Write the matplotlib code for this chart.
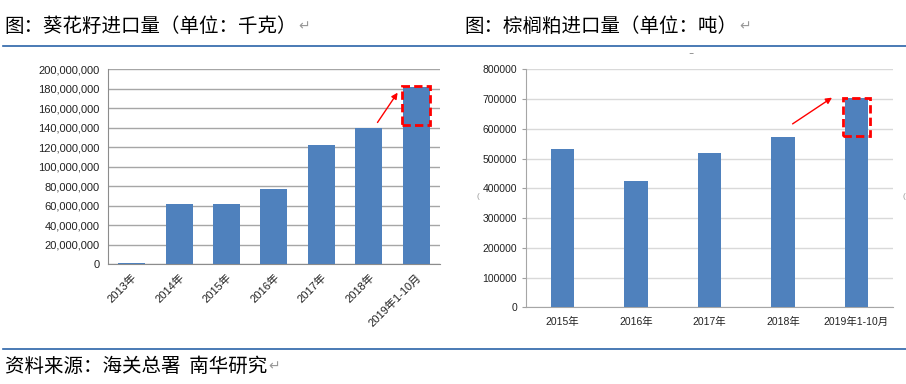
import matplotlib.pyplot as plt
from matplotlib.patches import Rectangle
from matplotlib.lines import Line2D
from matplotlib.text import Annotation
from matplotlib.ticker import FuncFormatter

plt.rcParams['font.family'] = ['Liberation Sans', 'Noto Sans CJK SC', 'DejaVu Sans']

# sunflower seed imports (kg)
sun_years = ['2013年', '2014年', '2015年', '2016年', '2017年', '2018年', '2019年1-10月']
sun_vals = [1.4e6, 61.9e6, 61.5e6, 76.9e6, 121.7e6, 139.3e6, 181.2e6]

# palm stearin imports (t)
palm_years = ['2015年', '2016年', '2017年', '2018年', '2019年1-10月']
palm_vals = [533000, 424600, 517600, 571400, 704000]

bar_color = '#4F81BD'
cjk = ['Noto Sans CJK SC', 'DejaVu Sans']

fig = plt.figure(figsize=(9.06, 3.84), dpi=100)


def para(x, y, s):
    # text line ending with a grey paragraph mark, like the word document
    t = fig.text(x, y, s, fontsize=14, family=cjk, va='center', ha='left', weight='medium')
    mark = Annotation('↵', xy=(1, 0.5), xycoords=t, xytext=(1, 0), textcoords='offset points',
                      fontsize=10, family=['DejaVu Sans'], color='#999999', va='center', ha='left',
                      annotation_clip=False)
    fig.add_artist(mark)
    return t


# titles, rules and source line
para(0.005, 0.932, '图：葵花籽进口量（单位：千克）')
para(0.513, 0.932, '图：棕榈粕进口量（单位：吨）')
fig.add_artist(Line2D([0.003, 1.0], [0.881, 0.881], color='#2B63A8', lw=1.2))
fig.add_artist(Line2D([0.003, 1.0], [0.091, 0.091], color='#2B63A8', lw=1.2))
para(0.005, 0.045, '资料来源：海关总署  南华研究')

# small leftover marks of the pasted picture frame
fig.text(0.763, 0.845, '‾', fontsize=7, color='#777777', ha='center', va='center')
fig.text(0.528, 0.487, '(', fontsize=6, color='#999999', ha='center', va='center')
fig.text(0.998, 0.487, '(', fontsize=6, color='#999999', ha='center', va='center')

# left chart
ax1 = fig.add_axes([0.1192, 0.3125, 0.3664, 0.5078])
x1 = range(len(sun_years))
ax1.bar(x1, sun_vals, width=0.57, color=bar_color, zorder=3)
ax1.set_xlim(-0.5, len(sun_years) - 0.5)
ax1.set_ylim(0, 200e6)
ax1.set_yticks([i * 20e6 for i in range(11)])
ax1.yaxis.set_major_formatter(FuncFormatter(lambda v, p: f'{int(v):,}'))
ax1.grid(axis='y', color='#A6A6A6', lw=1, zorder=0)
ax1.set_xticks(list(x1))
ax1.set_xticklabels(sun_years, rotation=45, ha='right', rotation_mode='anchor', fontsize=8)
ax1.tick_params(axis='both', length=0, labelsize=8, colors='#222222')
ax1.tick_params(axis='y', pad=6)
ax1.tick_params(axis='x', pad=6)
for s in ['top', 'right']:
    ax1.spines[s].set_visible(False)
for s in ['left', 'bottom']:
    ax1.spines[s].set_color('#8C8C8C')

n = len(sun_vals) - 1
ax1.add_patch(Rectangle((n - 0.29, sun_vals[-2] * 1.02), 0.58, sun_vals[-1] * 1.01 - sun_vals[-2] * 1.02,
                        fill=False, ec='#FF0000', lw=2, ls=(0, (3, 1.5)), zorder=4))
ax1.annotate('', xy=(n - 0.36, sun_vals[-1] * 0.983), xytext=(n - 0.85, sun_vals[-2] * 1.025),
             arrowprops=dict(arrowstyle='-|>', color='#FF0000', lw=1, mutation_scale=9), zorder=5)

# right chart
ax2 = fig.add_axes([0.5806, 0.1997, 0.4051, 0.6198])
x2 = range(len(palm_years))
ax2.bar(x2, palm_vals, width=0.32, color=bar_color, zorder=3)
ax2.set_xlim(-0.5, len(palm_years) - 0.5)
ax2.set_ylim(0, 800000)
ax2.set_yticks(range(0, 800001, 100000))
ax2.grid(axis='y', color='#D9D9D9', lw=1, zorder=0)
ax2.set_xticks(list(x2))
ax2.set_xticklabels(palm_years, fontsize=7.5)
ax2.tick_params(axis='y', length=3, color='#A0A0A0', labelsize=7.5, labelcolor='#222222')
ax2.tick_params(axis='x', length=0, labelsize=7.5, pad=7, labelcolor='#222222')
for s in ['top', 'right']:
    ax2.spines[s].set_visible(False)
for s in ['left', 'bottom']:
    ax2.spines[s].set_color('#A6A6A6')

m = len(palm_vals) - 1
ax2.add_patch(Rectangle((m - 0.18, palm_vals[-2] + 6000), 0.36, palm_vals[-1] - palm_vals[-2] - 5000,
                        fill=False, ec='#FF0000', lw=2, ls=(0, (3, 1.5)), zorder=4))
ax2.annotate('', xy=(m - 0.3, palm_vals[-1] + 6000), xytext=(m - 0.9, palm_vals[-2] + 40000),
             arrowprops=dict(arrowstyle='-|>', color='#FF0000', lw=1, mutation_scale=9), zorder=5)

fig.savefig('out.png', dpi=100)
